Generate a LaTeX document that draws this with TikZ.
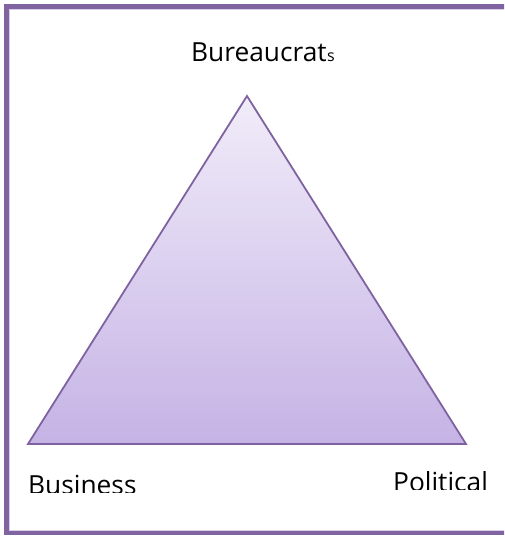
\documentclass[tikz,border=0pt]{standalone}
\usepackage{fontspec}
\setmainfont{Open Sans}
\definecolor{framepurple}{HTML}{8064A2}
\definecolor{framelight}{HTML}{D9CEE8}
\definecolor{trishade}{HTML}{7F63A1}
\definecolor{tritop}{HTML}{F1ECF9}
\definecolor{tribot}{HTML}{C5B3E5}
\tikzset{
  lbl/.style={inner sep=0pt, anchor=base west, font=\fontsize{26.3}{30}\selectfont, text=black},
  tri/.style={draw=trishade, line width=1.8pt, line join=miter, top color=tritop, bottom color=tribot}
}
\begin{document}
\begin{tikzpicture}[x=1pt,y=-1pt]
\useasboundingbox (0,0) rectangle (504,536);
\clip (0,0) rectangle (504,536);
% frame
\draw[framepurple, line width=4.6pt] (6.5,6.5) rectangle (520,533);
\draw[framelight, line width=1pt] (9.5,9.5) rectangle (517,530);
% triangle
\coordinate (apex) at (247,96);
\coordinate (bl) at (28,444);
\coordinate (br) at (466,444);
\path[tri] (apex) -- (br) -- (bl) -- cycle;
% labels
\node[lbl] (bur) at (191,61) {Bureaucrat};
\node[inner sep=0pt, anchor=base west, font=\fontsize{16}{18}\selectfont] (burs) at (bur.base east) {s};
\begin{scope}
\clip (0,0) rectangle (504,492);
\node[lbl] (bus) at (28,494.5) {Business};
\end{scope}
\begin{scope}
\clip (0,0) rectangle (504,489);
\node[lbl] (pol) at (393,491) {Political};
\end{scope}
\end{tikzpicture}
\end{document}
